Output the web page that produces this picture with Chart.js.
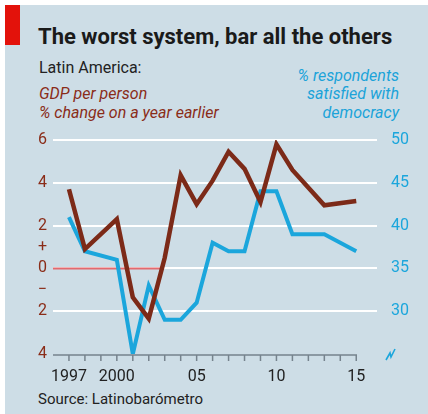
<!DOCTYPE html>
<html>
<head>
<meta charset="utf-8">
<script src="https://cdn.jsdelivr.net/npm/chart.js@4/dist/chart.umd.min.js"></script>
<style>
body{margin:0;width:428px;height:414px;overflow:hidden;background:#fff;font-family:Roboto,sans-serif;}
#panel{position:absolute;left:5px;top:5px;width:423px;height:409px;background:#cddde6;}
#marker{position:absolute;left:5px;top:5px;width:15px;height:40px;background:#e3120b;}
.t{position:absolute;white-space:nowrap;line-height:1;}
#title{left:38px;top:26px;font-size:22px;font-weight:bold;color:#1a1a1a;}
#sub{left:39px;top:60px;font-size:16px;color:#222;}
.gdp{left:39px;font-size:16px;font-style:italic;color:#8a2c18;}
.sat{right:29px;text-align:right;font-size:16px;font-style:italic;color:#1ba3d9;}
#source{left:38px;top:392px;font-size:15px;color:#222;}
canvas{position:absolute;left:0;top:0;}
</style>
</head>
<body>
<div id="panel"></div>
<div id="marker"></div>
<div class="t" id="title">The worst system, bar all the others</div>
<div class="t" id="sub">Latin America:</div>
<div class="t gdp" style="top:86px">GDP per person</div>
<div class="t gdp" style="top:105px">% change on a year earlier</div>
<div class="t sat" style="top:68px">% respondents</div>
<div class="t sat" style="top:86px">satisfied with</div>
<div class="t sat" style="top:105px">democracy</div>
<div class="t" id="source">Source: Latinobarómetro</div>
<canvas id="myChart" width="428" height="414"></canvas>
<script>
// datos (null = sin encuesta ese año)
const years = [1997,1998,1999,2000,2001,2002,2003,2004,2005,2006,2007,2008,2009,2010,2011,2012,2013,2014,2015];
const gdp = [3.7,0.9,null,2.3,-1.35,-2.35,0.5,4.35,3.0,4.1,5.45,4.65,3.1,5.8,4.6,null,2.95,null,3.15];
const satisfied = [41,37,null,36,25,33,29,29,31,38,37,37,44,44,39,null,39,null,37];

const xTickYears = [1997,2000,2005,2010,2015];
const xTickText = ['1997','2000','05','10','15'];
const leftTickValues = [6,4,2,1,0,-1,-2,-4];
const leftTickText = ['6','4','2','+','0','\u2212','2','4'];
const rightTickValues = [50,45,40,35,30];
const gridValues = [6,4,2,0,-2];

const brown = '#7c2a18';
const blue = '#1ba6dc';

function puntos(valores){
    let datos = [];
    years.forEach((y, i) => datos.push({x: y, y: valores[i]}));
    return datos;
}

// eje x, linea roja del cero y el simbolo de corte
const extras = {
    id: 'extras',
    beforeDatasetsDraw(chart){
        const c = chart.ctx;
        const x = chart.scales.x;
        const y = chart.scales.y;
        const area = chart.chartArea;
        c.save();
        c.strokeStyle = '#e26a6f';
        c.lineWidth = 2;
        c.beginPath();
        c.moveTo(area.left, y.getPixelForValue(0));
        c.lineTo(x.getPixelForValue(2002.75), y.getPixelForValue(0));
        c.stroke();

        c.strokeStyle = '#76838d';
        c.lineWidth = 1.5;
        c.beginPath();
        c.moveTo(area.left, area.bottom + 1);
        c.lineTo(x.getPixelForValue(2015) + 0.75, area.bottom + 1);
        years.forEach(yr => {
            const px = x.getPixelForValue(yr);
            c.moveTo(px, area.bottom + 1);
            c.lineTo(px, area.bottom + 7);
        });
        c.stroke();
        c.restore();
    },
    afterDraw(chart){
        const c = chart.ctx;
        const b = chart.chartArea.bottom;
        c.save();
        c.strokeStyle = blue;
        c.lineWidth = 1.6;
        c.beginPath();
        c.moveTo(386, b + 6);
        c.lineTo(390, b - 1);
        c.lineTo(391, b + 3);
        c.lineTo(395, b - 5);
        c.stroke();
        c.restore();
    }
};

const ctx = document.getElementById('myChart').getContext('2d');
const grafico = new Chart(ctx, {
    type: 'line',
    data: {
        datasets: [{
            label: 'GDP per person',
            data: puntos(gdp),
            borderColor: brown,
            borderWidth: 4.5,
            yAxisID: 'y',
            order: 0
        }, {
            label: '% satisfied with democracy',
            data: puntos(satisfied),
            borderColor: blue,
            borderWidth: 4,
            yAxisID: 'y2',
            order: 1
        }]
    },
    options: {
        responsive: false,
        animation: false,
        devicePixelRatio: 1,
        spanGaps: true,
        elements: {
            line: {tension: 0, borderCapStyle: 'butt'},
            point: {radius: 0}
        },
        layout: {padding: {top: 140, bottom: 0, left: 0, right: 0}},
        plugins: {legend: {display: false}, tooltip: {enabled: false}},
        scales: {
            x: {
                type: 'linear',
                min: 1996,
                max: 2016.3,
                grid: {display: false},
                border: {display: false},
                ticks: {
                    stepSize: 1,
                    autoSkip: false,
                    maxRotation: 0,
                    includeBounds: false,
                    padding: 5,
                    color: '#222',
                    font: {family: 'Roboto', size: 16},
                    callback: v => {
                        const i = xTickYears.indexOf(v);
                        return i >= 0 ? xTickText[i] : '';
                    }
                },
                afterFit: s => { s.height = 60; }
            },
            y: {
                position: 'left',
                min: -4,
                max: 6,
                border: {display: false},
                grid: {
                    drawTicks: false,
                    lineWidth: 2,
                    color: c => gridValues.includes(c.tick.value) ? '#ffffff' : 'rgba(0,0,0,0)'
                },
                ticks: {
                    stepSize: 1,
                    autoSkip: false,
                    padding: 6,
                    color: '#8a2c18',
                    font: {family: 'Roboto', size: 16},
                    callback: v => {
                        const i = leftTickValues.indexOf(v);
                        return i >= 0 ? leftTickText[i] : '';
                    }
                },
                afterFit: s => { s.width = 53; }
            },
            y2: {
                position: 'right',
                min: 25,
                max: 50,
                border: {display: false},
                grid: {display: false},
                ticks: {
                    stepSize: 5,
                    padding: 6,
                    color: blue,
                    font: {family: 'Roboto', size: 16},
                    callback: v => rightTickValues.includes(v) ? String(v) : ''
                },
                afterFit: s => { s.width = 51; }
            }
        }
    },
    plugins: [extras]
});
</script>
</body>
</html>
